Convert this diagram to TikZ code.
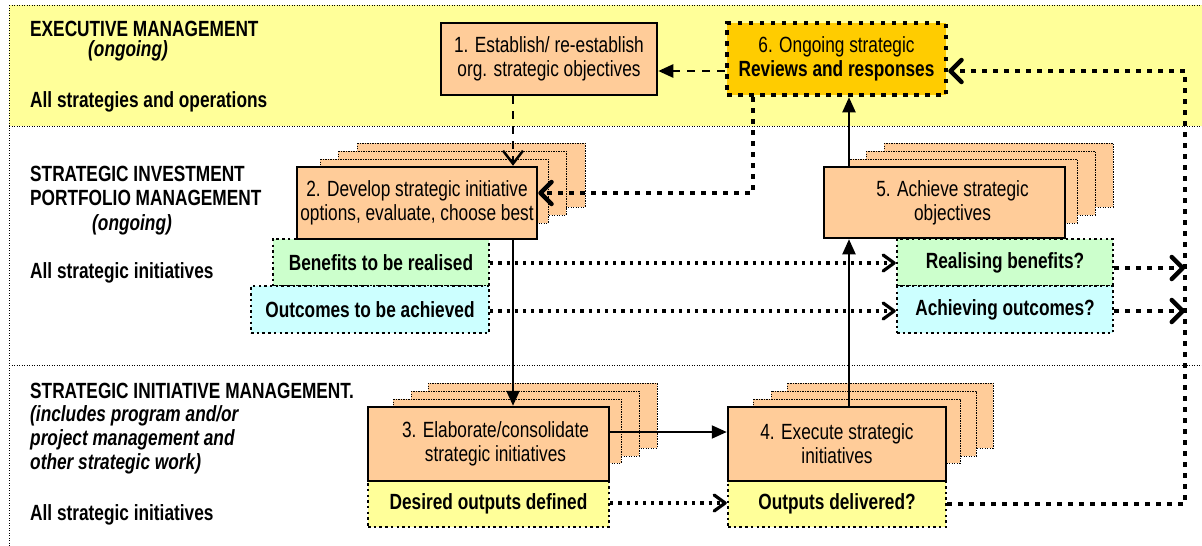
\documentclass[tikz,border=0pt]{standalone}
\usepackage{fontspec}
\setmainfont{Liberation Sans}[FakeStretch=0.785]
\usetikzlibrary{arrows.meta}
\definecolor{bandyellow}{HTML}{FFFF99}
\definecolor{peach}{HTML}{FFCC99}
\definecolor{gold}{HTML}{FFCC00}
\definecolor{mint}{HTML}{CCFFCC}
\definecolor{aqua}{HTML}{CCFFFF}
\newcommand\dgfont{\fontsize{22}{24}\selectfont}
\begin{document}
\begin{tikzpicture}[x=1pt,y=-1pt,
  every node/.style={font=\dgfont, inner sep=0pt},
  lbl/.style={anchor=base west, font=\dgfont\bfseries},
  lbli/.style={anchor=base west, font=\dgfont\bfseries\itshape},
  bandline/.style={line width=1pt, dash pattern=on 1.2pt off 1.3pt},
  layerbox/.style={draw=black, fill=peach, line width=1pt, dash pattern=on 1.2pt off 1.3pt},
  mainbox/.style={draw=black, fill=peach, line width=2.5pt, align=center},
  revbox/.style={draw=black, fill=gold, line width=4.5pt, dash pattern=on 4.5pt off 6.5pt, align=center},
  infobox/.style={draw=black, line width=2.5pt, dash pattern=on 2.5pt off 3.2pt, font=\dgfont\bfseries},
  solidarr/.style={line width=2pt, -{Triangle[length=15pt,width=13pt]}},
  dasharr/.style={line width=2.5pt, dash pattern=on 8pt off 7pt},
  meddot/.style={line width=3.2pt, dash pattern=on 3.2pt off 5pt, -{Straight Barb[length=11pt,width=16pt,round]}},
  bigdot/.style={line width=4.5pt, dash pattern=on 4.5pt off 6.5pt, -{Straight Barb[length=11pt,width=22pt,round]}}
]
\useasboundingbox (0,0) rectangle (1202,546);
\fill[white] (0,0) rectangle (1202,546);
% bands
\fill[bandyellow] (9,5) rectangle (1202,126);
\draw[bandline] (9,5) -- (1202,5);
\draw[bandline] (9,126) -- (1202,126);
\draw[bandline] (9,365) -- (1202,365);
\draw[bandline] (9,5) -- (9,546);

% band labels
\node[lbl] (h1) at (30,36) {EXECUTIVE MANAGEMENT};
\node[lbli] (h1b) at (88,56) {(ongoing)};
\node[lbl] (h1c) at (30,107) {All strategies and operations};
\node[lbl] (h2) at (30,181) {STRATEGIC INVESTMENT};
\node[lbl] (h2b) at (30,205) {PORTFOLIO MANAGEMENT};
\node[lbli] (h2c) at (92,230) {(ongoing)};
\node[lbl] (h2d) at (30,278) {All strategic initiatives};
\node[lbl] (h3) at (30,398) {STRATEGIC INITIATIVE MANAGEMENT.};
\node[lbli] (h3b) at (30,421) {(includes program and/or};
\node[lbli] (h3c) at (30,445) {project management and};
\node[lbli] (h3d) at (30,469) {other strategic work)};
\node[lbl] (h3e) at (30,520) {All strategic initiatives};

% stacked layers behind boxes 2,5,3,4
\draw[layerbox] (357,143) rectangle +(228,64);
\draw[layerbox] (338,151) rectangle +(228,64);
\draw[layerbox] (320,159) rectangle +(228,64);
\draw[layerbox] (884,143) rectangle +(229,64);
\draw[layerbox] (866,151) rectangle +(229,64);
\draw[layerbox] (848,159) rectangle +(229,64);
\draw[layerbox] (428,383) rectangle +(229,65);
\draw[layerbox] (411,391) rectangle +(228,65);
\draw[layerbox] (393,399) rectangle +(228,64);
\draw[layerbox] (787,383) rectangle +(206,65);
\draw[layerbox] (771,391) rectangle +(205,65);
\draw[layerbox] (753,399) rectangle +(207,64);

% info boxes
\node[infobox, fill=mint, minimum width=216, minimum height=47] (ben) at (381,262.5) {Benefits to be realised};
\node[infobox, fill=aqua, minimum width=238, minimum height=47] (outc) at (370,309.5) {Outcomes to be achieved};
\node[infobox, fill=mint, minimum width=216, minimum height=47] (rea) at (1005,262.5) {Realising benefits?};
\node[infobox, fill=aqua, minimum width=216, minimum height=47] (ach) at (1005,309.5) {Achieving outcomes?};
\node[infobox, fill=bandyellow, minimum width=241, minimum height=46] (des) at (488.5,504) {Desired outputs defined};
\node[infobox, fill=bandyellow, minimum width=218, minimum height=46] (outd) at (837,504) {Outputs delivered?};

% main boxes
\node[mainbox, minimum width=216, minimum height=72] (b1) at (549,59) {1. Establish/ re-establish\\org. strategic objectives};
\node[revbox, minimum width=219, minimum height=72] (b6) at (836.5,59) {6. Ongoing strategic\\\textbf{Reviews and responses}};
\node[mainbox, minimum width=240, minimum height=72] (b2) at (417,203) {2. Develop strategic initiative\\options, evaluate, choose best};
\node[mainbox, minimum width=241, minimum height=71] (b5) at (944.5,202.5) {\hspace*{16pt}5. Achieve strategic\\\hspace*{16pt}objectives};
\node[mainbox, minimum width=241, minimum height=74] (b3) at (488.5,444) {\hspace*{14pt}3. Elaborate/consolidate\\\hspace*{14pt}strategic initiatives};
\node[mainbox, minimum width=218, minimum height=74] (b4) at (837,444) {4. Execute strategic\\initiatives};

% helper coordinates
\coordinate (ya) at (0,71);
\coordinate (yb) at (0,193);
\coordinate (yc) at (0,432);
\coordinate (yd) at (0,263);
\coordinate (ye) at (0,268);
\coordinate (yf) at (0,311);
\coordinate (yg) at (0,503);
\coordinate (xa) at (513,0);
\coordinate (xb) at (849,0);
\coordinate (xc) at (753,0);
\coordinate (xr) at (1185,0);

% connectors
\draw[dasharr, -{Triangle[length=15pt,width=13pt]}] (b6.west |- ya) -- (b1.east |- ya);
\draw[dasharr, -{Straight Barb[length=13pt,width=20pt]}] (b1.south -| xa) -- (b2.north -| xa);
\draw[bigdot] (b6.south -| xc) |- (b2.east |- yb);
\draw[solidarr] (b2.south -| xa) -- (b3.north -| xa);
\draw[solidarr] (b3.east |- yc) -- (b4.west |- yc);
\draw[solidarr] (b4.north -| xb) -- (b5.south -| xb);
\draw[solidarr] (b5.north -| xb) -- (b6.south -| xb);
\draw[meddot] (ben.east |- yd) -- (rea.west |- yd);
\draw[meddot] (outc.east |- yf) -- (ach.west |- yf);
\draw[meddot] (des.east |- yg) -- (outd.west |- yg);
\draw[bigdot] (rea.east |- ye) -- (xr |- ye);
\draw[bigdot] (ach.east |- yf) -- (xr |- yf);
\draw[bigdot] (outd.east) -| (xr |- ya) -- (b6.east |- ya);
\end{tikzpicture}
\end{document}
